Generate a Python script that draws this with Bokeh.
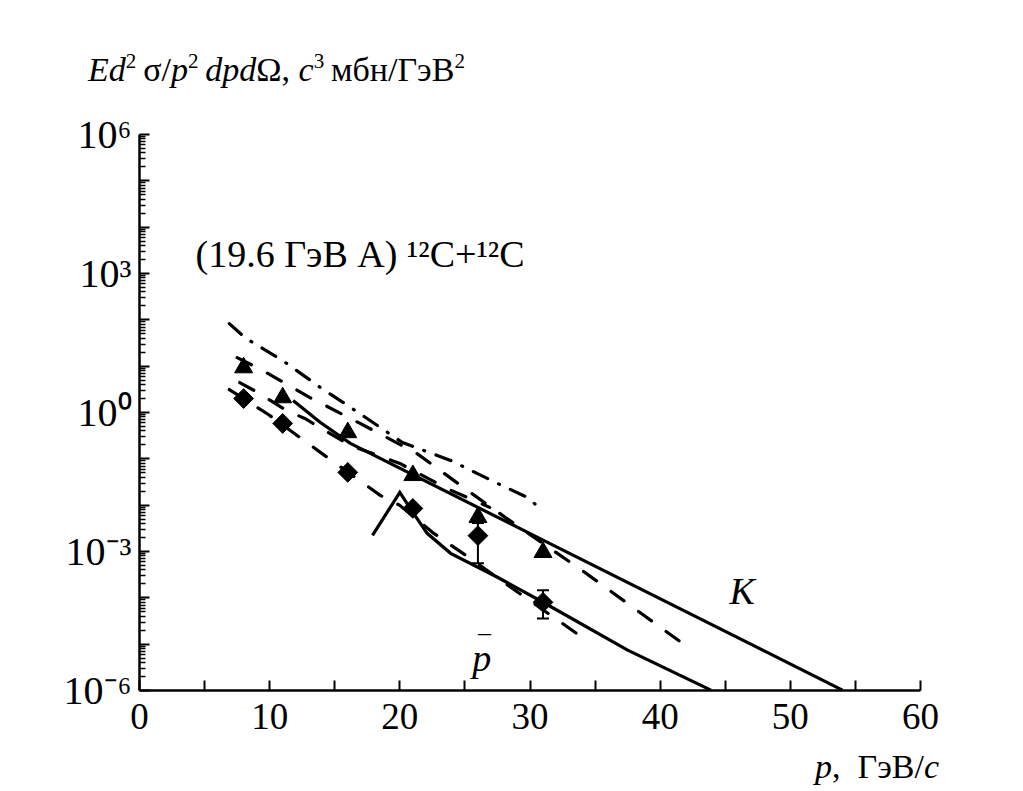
import numpy as np
from bokeh.plotting import figure
from bokeh.layouts import column
from bokeh.models import (Range1d, FixedTicker, Label, Whisker, ColumnDataSource, TeeHead,
                          CustomJSTickFormatter, Div)
from bokeh.embed import file_html
from bokeh.resources import INLINE

# ---------------- data ----------------
p_meas = [8, 11, 16, 21, 26, 31]
k_meas = [9.3, 2.1, 0.37, 0.044, 0.0055, 9.6e-4]
pbar_meas = [2.0, 0.58, 0.051, 0.0085, 0.0022, 8.0e-5]

pbar_err_p = [26, 31]
pbar_err_lo = [5.6e-4, 3.6e-5]
pbar_err_hi = [4.1e-3, 1.46e-4]

k_solid_p = [11.8, 13.9, 16.2, 31.5, 54.0]
k_solid_v = [1.82, 0.61, 0.215, 1.5e-3, 1.02e-6]

k_dash_p = [7.5, 9.5, 13.1, 16.8, 21.3, 25.2, 28.2, 34.0, 41.7]
k_dash_v = [15.3, 8.0, 2.1, 0.61, 0.131, 0.0208, 5.2e-3, 3.9e-4, 1.05e-5]

k_dashdot_p = [6.9, 8.1, 11.0, 13.9, 16.8, 20.2, 23.9, 27.5, 29.8, 30.5, 31.2]
k_dashdot_v = [82.8, 41.3, 13.2, 3.46, 1.0, 0.225, 0.0925, 0.0295, 0.0147, 9.9e-3, 0.0109]

k_dash2_p = [7.7, 9.1, 11.3, 12.7, 16.2, 20.0, 23.6, 26.9]
k_dash2_v = [4.43, 2.70, 1.10, 0.743, 0.194, 0.0796, 0.0230, 8.97e-3]

pbar_solid_p = [17.9, 20.0, 20.9, 22.1, 23.9, 27.5, 31.0, 37.5, 43.9]
pbar_solid_v = [2.23e-3, 0.0189, 7.73e-3, 2.47e-3, 9.14e-4, 2.78e-4, 8.04e-5, 7.43e-6, 1.02e-6]

pbar_dash_p = [6.9, 9.9, 14.0, 18.5, 20.0, 22.5, 25.4, 28.3, 34.1]
pbar_dash_v = [3.13, 0.906, 0.131, 0.0163, 9.9e-3, 2.59e-3, 7.13e-4, 1.87e-4, 1.35e-5]

x_ticks = [0, 10, 20, 30, 40, 50, 60]
x_minor = [5, 15, 25, 35, 45, 55]
y_label_exp = [6, 3, 0, -3, -6]

FONT = "Liberation Serif"
W = 1013
TOP_H, FIG_H, BOT_H = 100, 650, 36
BL, BR, BT, BB = 139, 93, 34, 60

# ---------------- figure ----------------
p = figure(width=W, height=FIG_H, y_axis_type="log",
           x_range=Range1d(0, 60), y_range=Range1d(1e-6, 1e6),
           output_backend="svg", toolbar_location=None,
           min_border_left=BL, min_border_right=BR,
           min_border_top=BT, min_border_bottom=BB, margin=0)
p.outline_line_color = None
p.grid.visible = False
p.background_fill_color = "white"
p.border_fill_color = "white"

# x axis
xa = p.xaxis[0]
xa.ticker = FixedTicker(ticks=x_ticks, minor_ticks=x_minor)
xa.major_tick_in = 10
xa.major_tick_out = 0
xa.minor_tick_in = 10
xa.minor_tick_out = 0
xa.major_tick_line_width = 2
xa.minor_tick_line_width = 2
xa.axis_line_width = 2.5
xa.major_label_text_font = FONT
xa.major_label_text_font_size = "37px"
xa.major_label_text_color = "black"
xa.major_label_standoff = 13
xa.axis_line_color = "black"

# y axis
ya = p.yaxis[0]
majors = [10.0 ** e for e in range(-6, 7)]
minors = [m * 10.0 ** e for e in range(-6, 6) for m in range(2, 10)]
ya.ticker = FixedTicker(ticks=majors, minor_ticks=minors)
ya.major_tick_in = 10
ya.major_tick_out = 0
ya.minor_tick_in = 6
ya.minor_tick_out = 0
ya.major_tick_line_width = 2
ya.minor_tick_line_width = 1.5
ya.axis_line_width = 2.5
ya.major_label_text_font = FONT
ya.major_label_text_font_size = "40px"
ya.major_label_text_color = "black"
ya.major_label_standoff = 8
ya.formatter = CustomJSTickFormatter(args=dict(shown=y_label_exp), code="""
    const e = Math.round(Math.log10(tick));
    if (!shown.includes(e)) { return ""; }
    const sup = {"-": "\u207b", "0": "\u2070", "1": "\u00b9", "2": "\u00b2", "3": "\u00b3",
                 "4": "\u2074", "5": "\u2075", "6": "\u2076", "7": "\u2077", "8": "\u2078",
                 "9": "\u2079"};
    return "10" + String(e).split("").map((c) => sup[c]).join("");
""")

# ---------------- curves ----------------
LW = 3.2
p.line(k_solid_p, k_solid_v, line_color="black", line_width=LW)
p.line(pbar_solid_p, pbar_solid_v, line_color="black", line_width=LW, line_join="miter")
p.line(k_dash_p, k_dash_v, line_color="black", line_width=LW, line_dash="16 18", line_cap="round")
p.line(k_dash2_p, k_dash2_v, line_color="black", line_width=LW, line_dash="16 18", line_cap="round")
p.line(pbar_dash_p, pbar_dash_v, line_color="black", line_width=LW, line_dash="16 18", line_cap="round")
p.line(k_dashdot_p, k_dashdot_v, line_color="black", line_width=LW, line_dash="16 12 1 12", line_cap="round")

# error bars
src_err = ColumnDataSource(dict(x=pbar_err_p, lo=pbar_err_lo, hi=pbar_err_hi))
w = Whisker(source=src_err, base="x", lower="lo", upper="hi", dimension="height",
            line_color="black", line_width=2,
            upper_head=TeeHead(size=12, line_width=2, line_color="black"),
            lower_head=TeeHead(size=12, line_width=2, line_color="black"))
p.add_layout(w)

# markers
p.scatter(p_meas, k_meas, marker="triangle", size=18, fill_color="black", line_color="black")
p.scatter(p_meas, pbar_meas, marker="square", angle=np.pi / 4, size=14,
          fill_color="black", line_color="black")

# ---------------- in-frame texts ----------------
def dlab(x, y, text, size="36px", style="normal", align="left", baseline="alphabetic",
         xo=0, yo=0):
    p.add_layout(Label(x=x, y=y, text=text, text_font=FONT, text_font_size=size,
                       text_font_style=style, text_align=align, text_baseline=baseline,
                       text_color="black", x_offset=xo, y_offset=yo))

dlab(4.3, 2673, "(19.6 ГэВ A) ¹²C+¹²C", size="38px")
dlab(46.3, 1.39e-4, "K", size="38px", style="italic", align="center", baseline="middle")
dlab(26.3, 5.0e-6, "p", size="38px", style="italic", align="center")
dlab(26.5, 5.0e-6, "–", size="26px", align="center", yo=26)

# ---------------- titles (HTML, outside the frame) ----------------
SUP = '<sup style="font-size:62%;vertical-align:0.62em;line-height:0">'
title_html = (
    f'<div style="padding:53px 0 0 88px;font-family:\'{FONT}\';font-size:34px;'
    f'line-height:1;white-space:nowrap;color:black">'
    f'<i>Ed</i>{SUP}2</sup>&thinsp;σ/<i>p</i>{SUP}2</sup>&thinsp;<i>dpd</i>Ω, '
    f'<i>c</i>{SUP}3</sup>&thinsp;мбн/ГэВ{SUP}2</sup></div>'
)
xlabel_html = (
    f'<div style="padding:0 0 0 815px;font-family:\'{FONT}\';font-size:34px;'
    f'line-height:1;white-space:nowrap;color:black">'
    f'<i>p</i>,&nbsp; ГэВ/<i>c</i></div>'
)
top = Div(text=title_html, width=W, height=TOP_H, margin=0)
bottom = Div(text=xlabel_html, width=W, height=BOT_H, margin=0)

layout = column(top, p, bottom, spacing=0, margin=0)
open("out.html", "w").write(file_html(layout, INLINE))
